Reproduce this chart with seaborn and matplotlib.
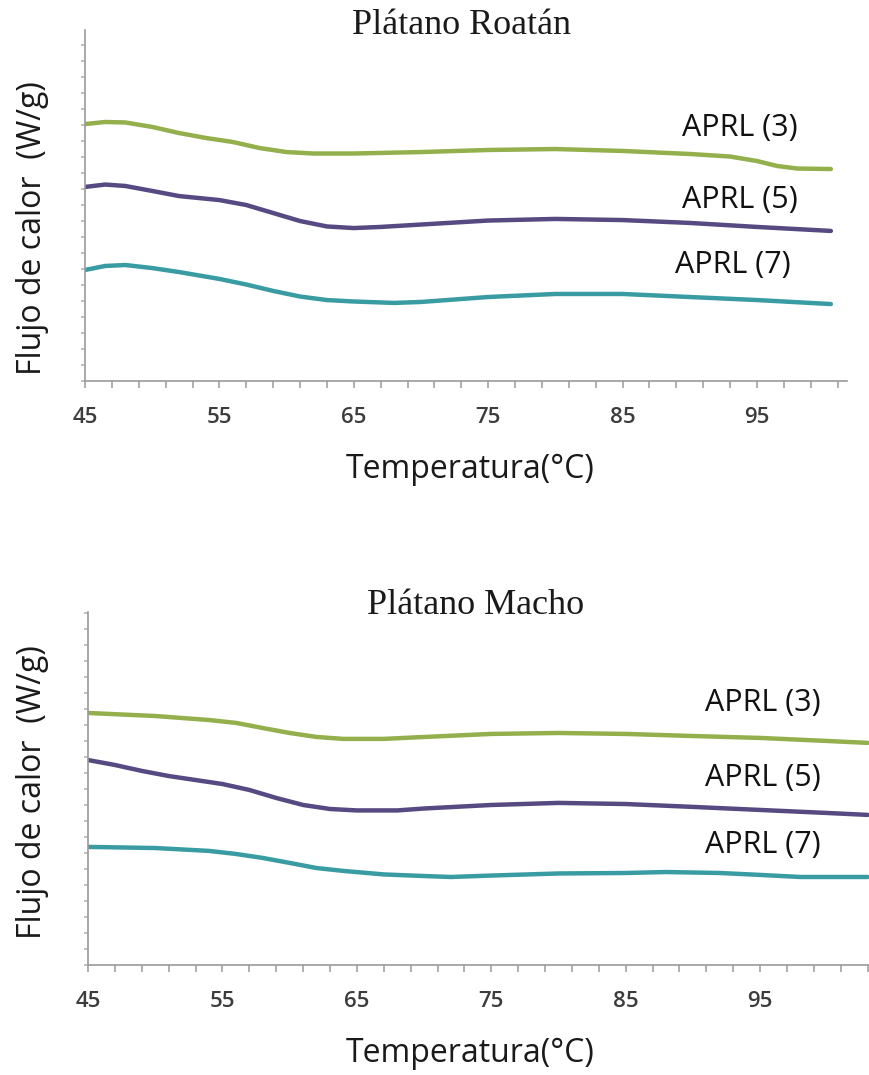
import matplotlib
matplotlib.use("Agg")
import matplotlib.pyplot as plt
import seaborn as sns
import pandas as pd
from matplotlib.ticker import MultipleLocator, FixedLocator

# ---------------- data (heat flow, arbitrary units) ----------------
series_names = ["APRL (3)", "APRL (5)", "APRL (7)"]
series_colors = ["#93b04c", "#574a82", "#3a9ca3"]

# Plátano Roatán
roatan_t3 = [45, 46.5, 48, 50, 52, 54, 56, 58, 60, 62, 65, 70, 75, 80, 85, 90, 93, 95, 96.5, 98, 100.5]
roatan_y3 = [16.06, 16.19, 16.16, 15.88, 15.5, 15.19, 14.94, 14.56, 14.31, 14.22, 14.22, 14.31, 14.44, 14.5,
             14.38, 14.19, 14.03, 13.75, 13.44, 13.28, 13.25]
roatan_t5 = [45, 46.5, 48, 50, 52, 55, 57, 59, 61, 63, 65, 67, 70, 75, 80, 85, 90, 95, 100.5]
roatan_y5 = [12.13, 12.28, 12.19, 11.88, 11.56, 11.31, 11.0, 10.5, 10.0, 9.66, 9.56, 9.63, 9.78, 10.03, 10.13,
             10.06, 9.88, 9.63, 9.38]
roatan_t7 = [45, 46.5, 48, 50, 52, 55, 57, 59, 61, 63, 65, 68, 70, 75, 80, 85, 90, 95, 100.5]
roatan_y7 = [6.94, 7.19, 7.25, 7.06, 6.81, 6.38, 6.03, 5.63, 5.28, 5.06, 4.97, 4.88, 4.94, 5.25, 5.44, 5.44,
             5.25, 5.06, 4.81]

# Plátano Macho
macho_t3 = [45, 50, 54, 56, 58, 60, 62, 64, 67, 70, 75, 80, 85, 90, 95, 100, 103]
macho_y3 = [15.75, 15.56, 15.31, 15.13, 14.81, 14.5, 14.25, 14.13, 14.13, 14.25, 14.44, 14.5, 14.44, 14.31,
            14.19, 14.0, 13.88]
macho_t5 = [45, 47, 49, 51, 53, 55, 57, 59, 61, 63, 65, 68, 70, 75, 80, 85, 90, 95, 100, 103]
macho_y5 = [12.81, 12.5, 12.13, 11.81, 11.56, 11.31, 10.94, 10.44, 10.0, 9.75, 9.66, 9.66, 9.78, 10.0, 10.13,
            10.06, 9.88, 9.69, 9.5, 9.38]
macho_t7 = [45, 50, 54, 56, 58, 60, 62, 64, 67, 70, 72, 75, 80, 85, 88, 92, 95, 98, 103]
macho_y7 = [7.38, 7.31, 7.13, 6.94, 6.69, 6.38, 6.06, 5.88, 5.66, 5.56, 5.5, 5.59, 5.72, 5.75, 5.81, 5.75,
            5.63, 5.5, 5.5]

x_ticks = [45, 55, 65, 75, 85, 95]
titles = ["Plátano Roatán", "Plátano Macho"]
x_label = "Temperatura(°C)"
y_label = "Flujo de calor  (W/g)"


def long_df(ts, ys):
    rows = []
    for name, t, y in zip(series_names, ts, ys):
        for a, b in zip(t, y):
            rows.append({"Temperatura": a, "Flujo": b, "Muestra": name})
    return pd.DataFrame(rows)


df_roatan = long_df([roatan_t3, roatan_t5, roatan_t7], [roatan_y3, roatan_y5, roatan_y7])
df_macho = long_df([macho_t3, macho_t5, macho_t7], [macho_y3, macho_y5, macho_y7])

# ---------------- style ----------------
sns.set_theme(style="white")
plt.rcParams["font.family"] = ["Open Sans", "DejaVu Sans"]

W, H = 869, 1075
fig = plt.figure(figsize=(W / 100, H / 100), dpi=100)
fig.patch.set_facecolor("white")


def fx(px):
    return px / W


def fy(py):
    return 1 - py / H


panels = [
    dict(df=df_roatan, rect=[fx(85), fy(381), fx(847 - 85), (381 - 30) / H], xlim=(45, 101.7), ylim=(0, 21.94),
         title_xy=(462, 26), xlabel_xy=(470, 470), ylabel_xy=(33, 228),
         labels=[(93.7, 15.8), (93.7, 11.3), (93.2, 7.25)]),
    dict(df=df_macho, rect=[fx(88), fy(965), fx(869 - 88), (965 - 612) / H], xlim=(45, 103.1), ylim=(0, 22.06),
         title_xy=(476, 605), xlabel_xy=(470, 1053), ylabel_xy=(33, 792),
         labels=[(95.2, 16.4), (95.2, 11.7), (95.2, 7.5)]),
]

spine_col = "#9a9a9a"
for p, title in zip(panels, titles):
    ax = fig.add_axes(p["rect"])
    sns.lineplot(data=p["df"], x="Temperatura", y="Flujo", hue="Muestra", hue_order=series_names,
                 palette=series_colors, linewidth=3.2, sort=True, estimator=None, legend=False, ax=ax)
    for ln in ax.get_lines():
        ln.set_solid_joinstyle("round")
        ln.set_solid_capstyle("round")
    ax.set_xlim(*p["xlim"])
    ax.set_ylim(*p["ylim"])
    ax.set_xlabel("")
    ax.set_ylabel("")
    for s in ["top", "right"]:
        ax.spines[s].set_visible(False)
    for s in ["left", "bottom"]:
        ax.spines[s].set_color(spine_col)
        ax.spines[s].set_linewidth(1.2)
    ax.xaxis.set_major_locator(FixedLocator(x_ticks))
    ax.xaxis.set_minor_locator(MultipleLocator(2, offset=1))
    ax.set_xticklabels([str(v) for v in x_ticks])
    ax.yaxis.set_major_locator(MultipleLocator(1))
    ax.set_yticklabels([])
    ax.tick_params(axis="x", which="both", direction="out", length=5, width=1.1, color=spine_col,
                   bottom=True, pad=14, labelsize=16, labelcolor="#3c3c3c")
    ax.tick_params(axis="y", which="major", direction="out", length=3, width=1.1, color="#b0b0b0", left=True)
    for lab in ax.get_xticklabels():
        lab.set_fontweight("semibold")
    for name, col, (lx, ly) in zip(series_names, series_colors, p["labels"]):
        ax.text(lx, ly, name, ha="center", va="center", fontsize=22, color="#111111")
    tx, ty = p["title_xy"]
    fig.text(fx(tx), fy(ty), title, ha="center", va="center", fontsize=26,
             family=["Liberation Serif", "DejaVu Serif"], color="#1a1a1a")
    lx, ly = p["xlabel_xy"]
    fig.text(fx(lx), fy(ly), x_label, ha="center", va="center", fontsize=23, color="#1a1a1a")
    yx, yy = p["ylabel_xy"]
    fig.text(fx(yx), fy(yy), y_label, ha="center", va="center", rotation=90, fontsize=23, color="#1a1a1a")

fig.savefig("out.png", dpi=100, facecolor="white")
